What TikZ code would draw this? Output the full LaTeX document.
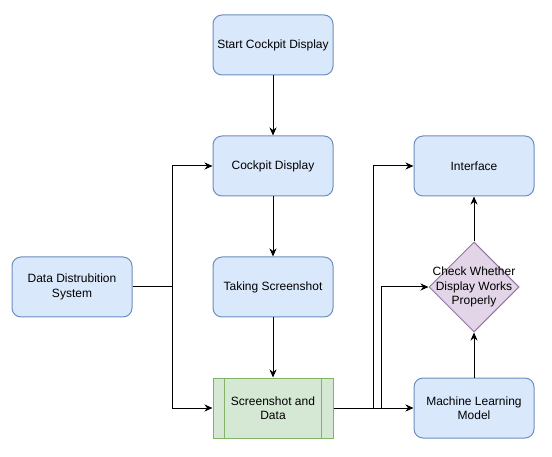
\documentclass[tikz,border=0pt]{standalone}
\usepackage{fontspec}
\setmainfont{Liberation Sans}
\usetikzlibrary{positioning,shapes.geometric,arrows.meta}

\definecolor{boxfill}{HTML}{DAE8FC}
\definecolor{boxline}{HTML}{6C8EBF}
\definecolor{datafill}{HTML}{D5E8D4}
\definecolor{dataline}{HTML}{82B366}
\definecolor{checkfill}{HTML}{E1D5E7}
\definecolor{checkline}{HTML}{9673A6}

\begin{document}
\begin{tikzpicture}[x=1pt,y=-1pt,font=\fontsize{12}{14.5}\selectfont]
        \tikzstyle{main box}=[draw=boxline,fill=boxfill,line width=1pt,rounded corners=9pt,minimum width=120pt,minimum height=60pt,align=center,inner sep=0pt]
        \tikzstyle{data box}=[draw=dataline,fill=datafill,line width=1pt,minimum width=120pt,minimum height=60pt,align=center,inner sep=0pt]
        \tikzstyle{check node}=[draw=checkline,fill=checkfill,line width=1pt,diamond,minimum width=90pt,minimum height=90pt,inner sep=0pt]
        \tikzstyle{link}=[line width=1pt,-{Stealth[length=8pt,width=7pt,inset=2.5pt]}]
        \useasboundingbox (0,0) rectangle (552,457);

        \node[main box] (start) at (273,45) {Start Cockpit Display};
        \node[main box] (cockpit) [below=60pt of start] {Cockpit Display};
        \node[main box] (taking) [below=60pt of cockpit] {Taking Screenshot};
        \node[data box] (shot) [below=60pt of taking] {Screenshot and\\Data};
        \node[main box] (dds) [left=80pt of taking] {Data Distrubition\\System};
        \node[main box] (iface) [right=80pt of cockpit] {Interface};
        \node[check node] (check) [below=45pt of iface] {};
        \node[align=center,inner sep=0pt] (checktext) at (check) {Check Whether\\Display Works\\Properly};
        \node[main box] (ml) [below=45pt of check] {Machine Learning\\Model};

        % inner bars of the process box
        \draw[dataline,line width=1pt] ([xshift=12pt]shot.north west) -- ([xshift=12pt]shot.south west);
        \draw[dataline,line width=1pt] ([xshift=-12pt]shot.north east) -- ([xshift=-12pt]shot.south east);

        \coordinate (split) at ([xshift=40pt]dds.east);
        \coordinate (busA) at ([xshift=40pt]shot.east);
        \coordinate (busB) at ([xshift=48pt]shot.east);

        \draw[link] (start) -- (cockpit);
        \draw[link] (cockpit) -- (taking);
        \draw[link] (taking) -- (shot);
        \draw[link] (dds.east) -- (split) |- (cockpit.west);
        \draw[link] (split) |- (shot.west);
        \draw[link] (shot) -- (ml);
        \draw[link] (shot.east) -- (busA) |- (iface.west);
        \draw[link] (shot.east) -- (busB) |- (check.west);
        \draw[link] (ml) -- (check);
        \draw[link] (check) -- (iface);
    \end{tikzpicture}
\end{document}
